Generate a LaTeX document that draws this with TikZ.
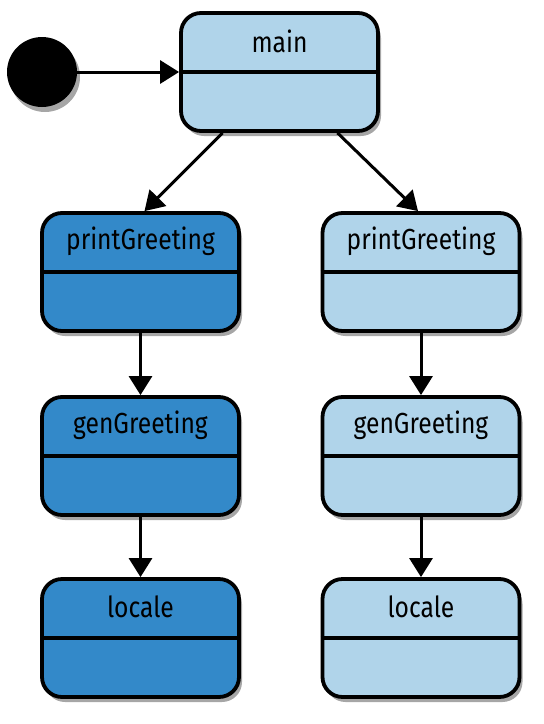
\documentclass[tikz,border=0pt]{standalone}
\usepackage{fontspec}
\setmainfont{Fira Sans}[FakeStretch=0.85]
\usetikzlibrary{arrows.meta,shadows,calc}
\definecolor{lightst}{HTML}{B0D4EA}
\definecolor{darkst}{HTML}{3389C9}
\tikzset{
  statebox/.style={draw=black, line width=3.8pt, rounded corners=20pt,
    minimum width=197pt, minimum height=118pt, inner sep=0pt,
    drop shadow={shadow xshift=3pt, shadow yshift=-5pt, opacity=0.35, fill=black}},
  lightbox/.style={statebox, fill=lightst},
  darkbox/.style={statebox, fill=darkst},
  divider/.style={line width=3.5pt},
  lbl/.style={font=\fontsize{29}{32}\selectfont, inner sep=0pt},
  arr/.style={line width=3pt, -{Triangle[length=19pt,width=23pt]}},
}
\begin{document}
\begin{tikzpicture}[x=1pt,y=-1pt]
\useasboundingbox (0,0) rectangle (544,724);
\node[circle, fill=black, minimum size=70pt, inner sep=0pt,
  drop shadow={shadow xshift=3pt, shadow yshift=-5pt, opacity=0.35, fill=black}] (init) at (42,72) {};
\node[lightbox] (m) at (279.5,72) {};
\node[darkbox] (l1) at (140.5,272) {};
\node[darkbox] (l2) at (140.5,456) {};
\node[darkbox] (l3) at (140.5,638) {};
\node[lightbox] (r1) at (421,272) {};
\node[lightbox] (r2) at (421,456) {};
\node[lightbox] (r3) at (421,638) {};
\foreach \n in {m,l1,l2,l3,r1,r2,r3}{
  \draw[divider] (\n.west) -- (\n.east);
}
\node[lbl] (tm) at ([yshift=-30pt]m.north) {main};
\node[lbl] (tl1) at ([yshift=-30pt]l1.north) {printGreeting};
\node[lbl] (tl2) at ([yshift=-30pt]l2.north) {genGreeting};
\node[lbl] (tl3) at ([yshift=-30pt]l3.north) {locale};
\node[lbl] (tr1) at ([yshift=-30pt]r1.north) {printGreeting};
\node[lbl] (tr2) at ([yshift=-30pt]r2.north) {genGreeting};
\node[lbl] (tr3) at ([yshift=-30pt]r3.north) {locale};
\draw[arr] (init.east) -- (m.west);
\draw[arr] ([xshift=-57pt]m.south) -- ([xshift=4pt]l1.north);
\draw[arr] ([xshift=58pt]m.south) -- ([xshift=-3pt]r1.north);
\draw[arr] (l1.south) -- (l2.north);
\draw[arr] (l2.south) -- (l3.north);
\draw[arr] (r1.south) -- (r2.north);
\draw[arr] (r2.south) -- (r3.north);
\end{tikzpicture}
\end{document}
